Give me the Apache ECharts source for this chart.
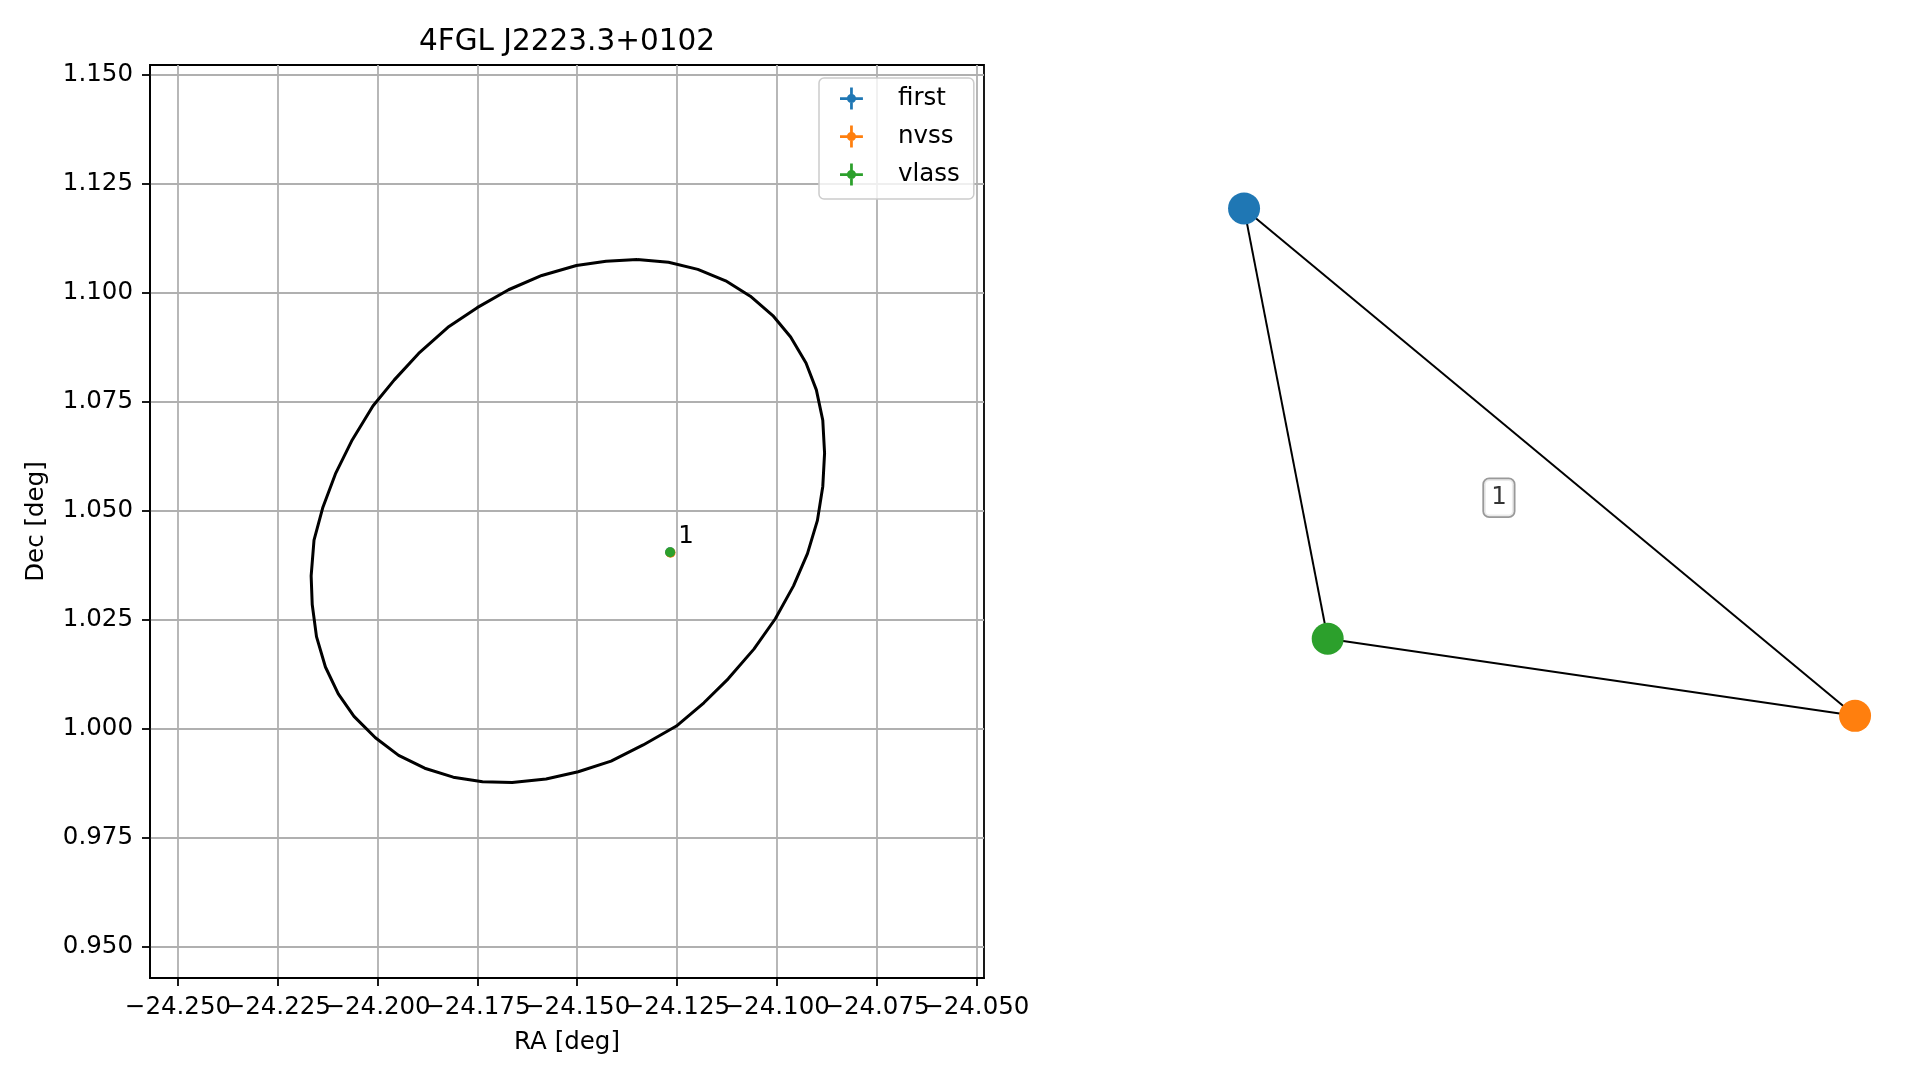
<!DOCTYPE html>
<html>
<head>
<meta charset="utf-8">
<script src="https://cdn.jsdelivr.net/npm/echarts@6/dist/echarts.min.js"></script>
<style>
html,body{margin:0;padding:0;background:#fff;}
#chart{width:1919px;height:1080px;}
</style>
</head>
<body>
<div id="chart"></div>
<script>
// ---- data ----
const titleText = '4FGL J2223.3+0102';
const raTicks = [-24.250, -24.225, -24.200, -24.175, -24.150, -24.125, -24.100, -24.075, -24.050];
const decTicks = [0.950, 0.975, 1.000, 1.025, 1.050, 1.075, 1.100, 1.125, 1.150];
const raRange = [-24.25701, -24.04807];
const decRange = [0.94289, 1.15218];

const ellipseRA = [-24.13497, -24.12710, -24.11976, -24.11279, -24.10661, -24.10098, -24.09651, -24.09266, -24.09007, -24.08846, -24.08801, -24.08846, -24.08980, -24.09230, -24.09579, -24.10035, -24.10572, -24.11216, -24.11824, -24.12513, -24.13345, -24.14150, -24.14973, -24.15778, -24.16628, -24.17370, -24.18104, -24.18819, -24.19472, -24.20054, -24.20590, -24.20984, -24.21306, -24.21530, -24.21637, -24.21664, -24.21592, -24.21369, -24.21056, -24.20635, -24.20116, -24.19580, -24.18971, -24.18238, -24.17504, -24.16717, -24.15885, -24.15018, -24.14275, -24.13497];
const ellipseDec = [1.10762, 1.10697, 1.10533, 1.10271, 1.09918, 1.09475, 1.08984, 1.08385, 1.07770, 1.07074, 1.06320, 1.05557, 1.04779, 1.04016, 1.03278, 1.02524, 1.01828, 1.01147, 1.00598, 1.00065, 0.99631, 0.99262, 0.99016, 0.98852, 0.98770, 0.98787, 0.98893, 0.99098, 0.99393, 0.99795, 1.00287, 1.00803, 1.01418, 1.02114, 1.02852, 1.03508, 1.04328, 1.05082, 1.05844, 1.06623, 1.07402, 1.08000, 1.08607, 1.09205, 1.09656, 1.10066, 1.10393, 1.10623, 1.10721, 1.10762];

const surveys = ['first', 'nvss', 'vlass'];
const surveyColors = ['#1f77b4', '#ff7f0e', '#2ca02c'];
const srcRA = [-24.1267, -24.1266, -24.1267];
const srcDec = [1.0405, 1.0404, 1.0405];
const srcLabel = '1';

// network layout (right panel)
const nodeX = [-0.578, 0.985, -0.364];
const nodeY = [0.754, -0.470, -0.284];
const edges = [[0, 1], [0, 2], [2, 1]];
const edgeLabelPos = [0.074, 0.056];
const edgeLabel = '1';

// ---- chart ----
const FONT = 'DejaVu Sans';
const FS = 24.5;
const fmt = v => Number(v).toFixed(3).replace('-', '\u2212');
const iconPath = 'path://M0,10.5H25V13.5H0Z M11,0H14V24H11Z M17.5,12A5,5,0,1,1,7.5,12A5,5,0,1,1,17.5,12Z';
const raTicksEven = raTicks.filter((v, i) => i % 2 === 0);
const raTicksOdd = raTicks.filter((v, i) => i % 2 === 1);

const chart = echarts.init(document.getElementById('chart'), null, {renderer: 'canvas'});

const series = [];
series.push({
  name: 'ellipse', type: 'line', xAxisIndex: 0, yAxisIndex: 0,
  data: ellipseRA.map((x, i) => [x, ellipseDec[i]]),
  showSymbol: false, symbol: 'none', smooth: false,
  lineStyle: {color: '#000', width: 3}, z: 3, silent: true
});
surveys.forEach((s, i) => {
  series.push({
    name: s, type: 'scatter', xAxisIndex: 0, yAxisIndex: 0,
    data: [[srcRA[i], srcDec[i]]],
    symbol: 'circle', symbolSize: 10,
    itemStyle: {color: surveyColors[i], opacity: 1},
    z: 4 + i,
    label: i === surveys.length - 1 ? {
      show: true, formatter: srcLabel, position: 'inside', offset: [8, -16],
      align: 'left', verticalAlign: 'middle', color: '#000', fontFamily: FONT, fontSize: FS
    } : {show: false}
  });
});
series.push({
  name: 'network', type: 'graph', coordinateSystem: 'cartesian2d',
  xAxisIndex: 1, yAxisIndex: 1, layout: 'none',
  data: nodeX.map((x, i) => ({name: surveys[i], value: [x, nodeY[i]], itemStyle: {color: surveyColors[i]}})),
  links: edges.map(e => ({source: e[0], target: e[1]})),
  symbol: 'circle', symbolSize: 32,
  lineStyle: {color: '#000', width: 2, opacity: 1, curveness: 0},
  label: {show: false}, z: 2
});
series.push({
  name: 'edgelabel', type: 'scatter', xAxisIndex: 1, yAxisIndex: 1,
  data: [edgeLabelPos], symbol: 'circle', symbolSize: 0, z: 5,
  label: {
    show: true, formatter: edgeLabel, position: 'inside', color: '#000',
    fontFamily: FONT, fontSize: FS, lineHeight: 25,
    backgroundColor: '#fff', borderColor: '#808080', borderWidth: 1.8, borderRadius: 5,
    padding: [6, 7, 6, 7]
  }
});

function labelOnlyAxis(values) {
  return {
    type: 'value', gridIndex: 0, min: raRange[0], max: raRange[1], position: 'bottom', offset: 0,
    axisLine: {show: false}, axisTick: {show: false}, splitLine: {show: false},
    axisLabel: {show: true, customValues: values, formatter: fmt, margin: 17, hideOverlap: false,
      showMinLabel: true, showMaxLabel: true, fontFamily: FONT, fontSize: FS, color: '#000'}
  };
}

const option = {
  animation: false,
  backgroundColor: '#fff',
  textStyle: {fontFamily: FONT},
  title: {
    text: titleText, left: 567, top: 27, textAlign: 'center', padding: 0,
    textStyle: {fontFamily: FONT, fontSize: 29.5, fontWeight: 'normal', color: '#000'}
  },
  legend: {
    data: surveys, orient: 'vertical', left: 819, top: 78,
    padding: [8, 14, 12, 21], itemGap: 13, itemWidth: 25, itemHeight: 22,
    icon: iconPath,
    backgroundColor: 'rgba(255,255,255,0.8)', borderColor: '#cccccc', borderWidth: 1.5, borderRadius: 5,
    textStyle: {fontFamily: FONT, fontSize: FS, color: '#000', padding: [0, 0, 0, 29], lineHeight: 24},
    selectedMode: false
  },
  grid: [
    {left: 150, right: 935, top: 65, bottom: 102, show: true, borderColor: '#000', borderWidth: 1.8, backgroundColor: 'transparent', outerBoundsMode: 'none'},
    {left: 1040, right: 19, top: 65, bottom: 103, show: false, outerBoundsMode: 'none'}
  ],
  xAxis: [
    {
      type: 'value', gridIndex: 0, min: raRange[0], max: raRange[1], position: 'bottom',
      name: 'RA [deg]', nameLocation: 'middle', nameGap: 52,
      nameTextStyle: {fontFamily: FONT, fontSize: FS, color: '#000'},
      axisLine: {show: true, onZero: false, lineStyle: {color: '#000', width: 1.8}},
      axisTick: {show: true, inside: false, length: 8, customValues: raTicks, lineStyle: {color: '#000', width: 1.8}},
      axisLabel: {show: false, customValues: raTicks},
      splitLine: {show: true, lineStyle: {color: '#b0b0b0', width: 1.8}}
    },
    {type: 'value', gridIndex: 1, min: -1.1, max: 1.1, show: false, splitLine: {show: false}},
    labelOnlyAxis(raTicksEven),
    labelOnlyAxis(raTicksOdd)
  ],
  yAxis: [
    {
      type: 'value', gridIndex: 0, min: decRange[0], max: decRange[1],
      name: 'Dec [deg]', nameLocation: 'middle', nameGap: 101, nameRotate: 90,
      nameTextStyle: {fontFamily: FONT, fontSize: FS, color: '#000'},
      axisLine: {show: true, onZero: false, lineStyle: {color: '#000', width: 1.8}},
      axisTick: {show: true, inside: false, length: 8, customValues: decTicks, lineStyle: {color: '#000', width: 1.8}},
      axisLabel: {show: true, customValues: decTicks, formatter: fmt, margin: 17, hideOverlap: false,
        showMinLabel: true, showMaxLabel: true,
        fontFamily: FONT, fontSize: FS, color: '#000'},
      splitLine: {show: true, lineStyle: {color: '#b0b0b0', width: 1.8}}
    },
    {type: 'value', gridIndex: 1, min: -1.1, max: 1.1, show: false, splitLine: {show: false}}
  ],
  series: series
};
chart.setOption(option);
</script>
</body>
</html>
